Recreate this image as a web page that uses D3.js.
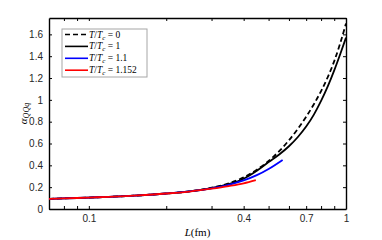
<!DOCTYPE html>
<html>
<head>
<meta charset="utf-8">
<script src="https://cdn.jsdelivr.net/npm/d3@7"></script>
<style>
  body { margin: 0; background: #fff; }
  .tick text { font-family: "Liberation Sans", Arial, sans-serif; font-size: 10px; fill: #262626; }
</style>
</head>
<body>
<div id="chart"></div>
<script>
// L (fm) sample points and coupling values
const L_T0 = [0.07, 0.08, 0.09, 0.1, 0.12, 0.15, 0.2, 0.25, 0.3, 0.35, 0.4, 0.45, 0.5, 0.55, 0.6, 0.65, 0.7, 0.75, 0.8, 0.85, 0.9, 0.95, 1.0];
const A_T0 = [0.093, 0.097, 0.101, 0.105, 0.112, 0.122, 0.142, 0.163, 0.195, 0.235, 0.29, 0.36, 0.44, 0.53, 0.63, 0.735, 0.845, 0.96, 1.08, 1.21, 1.355, 1.52, 1.70];

const L_T1 = [0.07, 0.08, 0.09, 0.1, 0.12, 0.15, 0.2, 0.25, 0.3, 0.35, 0.4, 0.45, 0.5, 0.55, 0.6, 0.65, 0.7, 0.75, 0.8, 0.85, 0.9, 0.95, 1.0];
const A_T1 = [0.093, 0.097, 0.101, 0.105, 0.112, 0.122, 0.142, 0.163, 0.192, 0.228, 0.277, 0.35, 0.43, 0.50, 0.575, 0.66, 0.755, 0.865, 0.99, 1.125, 1.27, 1.42, 1.57];

const L_T11 = [0.07, 0.08, 0.09, 0.1, 0.12, 0.15, 0.2, 0.25, 0.3, 0.35, 0.4, 0.45, 0.5, 0.567];
const A_T11 = [0.093, 0.097, 0.101, 0.105, 0.112, 0.122, 0.142, 0.163, 0.19, 0.222, 0.262, 0.31, 0.367, 0.45];

const L_T1152 = [0.07, 0.08, 0.09, 0.1, 0.12, 0.15, 0.2, 0.25, 0.3, 0.35, 0.4, 0.446];
const A_T1152 = [0.093, 0.097, 0.101, 0.105, 0.112, 0.122, 0.142, 0.162, 0.186, 0.21, 0.235, 0.264];

const xTicks = [0.08, 0.09, 0.1, 0.2, 0.3, 0.4, 0.5, 0.6, 0.7, 0.8, 0.9, 1];
const xLabels = [0.1, 0.4, 0.7, 1];
const yTicks = [0, 0.2, 0.4, 0.6, 0.8, 1, 1.2, 1.4, 1.6];

const series = [
    {name: "0", L: L_T0, a: A_T0, color: "#000", dash: "5,3"},
    {name: "1", L: L_T1, a: A_T1, color: "#000", dash: null},
    {name: "1.1", L: L_T11, a: A_T11, color: "#0000ff", dash: null},
    {name: "1.152", L: L_T1152, a: A_T1152, color: "#ff0000", dash: null}
];

const margin = {top: 18, right: 36, bottom: 31, left: 49},
    width = 382 - margin.left - margin.right,
    height = 240 - margin.top - margin.bottom;

const svg = d3.select("#chart")
    .append("svg")
    .attr("width", 382)
    .attr("height", 240)
    .append("g")
    .attr("transform", `translate(${margin.left},${margin.top})`);

const x = d3.scaleLog().domain([0.07, 1]).range([0, width]);
const y = d3.scaleLinear().domain([0, 1.75]).range([height, 0]);

// axes, ticks pointing inward on all four sides
const fmt = d => xLabels.includes(d) ? d3.format("~g")(d) : "";

svg.append("g")
    .attr("transform", `translate(0,${height})`)
    .call(d3.axisBottom(x).tickValues(xTicks).tickFormat(fmt).tickSizeInner(-3).tickSizeOuter(0).tickPadding(6));

svg.append("g")
    .call(d3.axisTop(x).tickValues(xTicks).tickFormat("").tickSizeInner(-3).tickSizeOuter(0));

svg.append("g")
    .call(d3.axisLeft(y).tickValues(yTicks).tickFormat(d3.format("~g")).tickSizeInner(-3).tickSizeOuter(0).tickPadding(6));

svg.append("g")
    .attr("transform", `translate(${width},0)`)
    .call(d3.axisRight(y).tickValues(yTicks).tickFormat("").tickSizeInner(-3).tickSizeOuter(0));

svg.selectAll(".domain").attr("stroke", "#000").attr("stroke-width", 1.4);
svg.selectAll(".tick line").attr("stroke", "#000").attr("stroke-width", 1);

// curves
const line = d3.line()
    .x(d => x(d[0]))
    .y(d => y(d[1]))
    .curve(d3.curveMonotoneX);

series.forEach(s => {
    svg.append("path")
        .datum(s.L.map((l, i) => [l, s.a[i]]))
        .attr("fill", "none")
        .attr("stroke", s.color)
        .attr("stroke-width", 1.8)
        .attr("stroke-dasharray", s.dash)
        .attr("d", line);
});

// axis labels
svg.append("text")
    .attr("x", width / 2)
    .attr("y", height + 27)
    .attr("text-anchor", "middle")
    .style("font-family", "'Liberation Serif', 'Times New Roman', serif")
    .style("font-size", "11px")
    .html('<tspan font-style="italic">L</tspan>(fm)');

svg.append("text")
    .attr("transform", `translate(-22,${height / 2}) rotate(-90)`)
    .attr("text-anchor", "middle")
    .style("font-family", "'Liberation Serif', 'Times New Roman', serif")
    .style("font-size", "11px")
    .html('<tspan font-style="italic">α</tspan><tspan font-size="8px" dy="2" font-style="italic">QQq</tspan>');

// legend
const legend = svg.append("g")
    .attr("transform", `translate(${62 - margin.left},${29 - margin.top})`);

legend.append("rect")
    .attr("width", 85)
    .attr("height", 48)
    .attr("fill", "#fff")
    .attr("stroke", "#a6a6a6")
    .attr("stroke-width", 1);

series.forEach((s, i) => {
    const yy = 5.5 + i * 11.9;
    legend.append("line")
        .attr("x1", 3).attr("x2", 26)
        .attr("y1", yy).attr("y2", yy)
        .attr("stroke", s.color)
        .attr("stroke-width", 1.6)
        .attr("stroke-dasharray", s.dash);
    legend.append("text")
        .attr("x", 27)
        .attr("y", yy + 3)
        .style("font-family", "'Liberation Serif', 'Times New Roman', serif")
        .style("font-size", "9.5px")
        .html(`<tspan font-style="italic">T</tspan>/<tspan font-style="italic">T</tspan><tspan font-size="7px" dy="2" font-style="italic">c</tspan><tspan dy="-2"> = ${s.name}</tspan>`);
});
</script>
</body>
</html>
